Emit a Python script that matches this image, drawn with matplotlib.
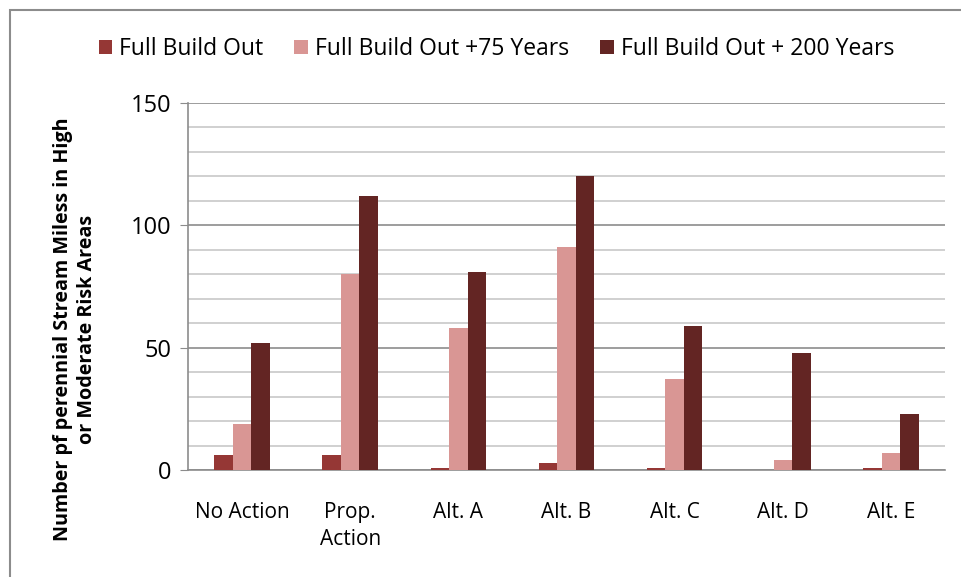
import numpy as np
import matplotlib
matplotlib.use("Agg")
import matplotlib.pyplot as plt
from matplotlib.patches import Rectangle

categories = ["No Action", "Prop.\nAction", "Alt. A", "Alt. B", "Alt. C", "Alt. D", "Alt. E"]
series_names = ["Full Build Out", "Full Build Out +75 Years", "Full Build Out + 200 Years"]
full_build = [6, 6, 1, 3, 1, 0, 1]
plus_75 = [19, 80, 58, 91, 37, 4, 7]
plus_200 = [52, 112, 81, 120, 59, 48, 23]
colors = ["#953735", "#D99694", "#632523"]

plt.rcParams["font.family"] = ["Open Sans", "DejaVu Sans"]

fig = plt.figure(figsize=(9.62, 5.77), dpi=100)
ax = fig.add_axes([188 / 962, 1 - 470 / 577, 757 / 962, 367 / 577])

x = np.arange(len(categories))
w = 0.171
for i, (vals, name) in enumerate(zip([full_build, plus_75, plus_200], series_names)):
    ax.bar(x + (i - 1) * w, vals, width=w, color=colors[i], label=name, zorder=3)

ax.set_xlim(-0.5, len(categories) - 0.5)
ax.set_ylim(0, 150)
ax.set_yticks([0, 50, 100, 150])
ax.set_yticks(np.arange(0, 151, 10), minor=True)
ax.grid(axis="y", which="minor", color="#c8c8c8", linewidth=1.2, zorder=0)
ax.grid(axis="y", which="major", color="#8c8c8c", linewidth=1.2, zorder=0)
ax.tick_params(axis="y", which="major", length=6, color="#8c8c8c", labelsize=17, pad=6)
ax.tick_params(axis="y", which="minor", length=0)
ax.set_xticks(x)
ax.set_xticklabels(categories, fontsize=15, linespacing=1.35)
ax.tick_params(axis="x", length=0, pad=23)
for s in ["top", "right"]:
    ax.spines[s].set_visible(False)
for s in ["left", "bottom"]:
    ax.spines[s].set_color("#8c8c8c")
    ax.spines[s].set_linewidth(1.2)

fig.text(75 / 962, 1 - 329 / 577,
         "Number pf perennial Stream Miless in High\nor Moderate Risk Areas",
         rotation=90, ha="center", va="center", fontsize=14.2, fontweight="bold",
         linespacing=1.25, multialignment="center")

fig.legend(loc="center", bbox_to_anchor=(0.516, 1 - 49 / 577), ncol=3, frameon=False,
           fontsize=16.5, handlelength=0.6, handleheight=0.6, handletextpad=0.3,
           columnspacing=1.35)

fig.patches.append(Rectangle((10 / 962, -0.1), 1.2, 1.1 - 10 / 577, transform=fig.transFigure,
                             fill=False, edgecolor="#8c8c8c", linewidth=1.5))

fig.savefig("out.png", dpi=100)
